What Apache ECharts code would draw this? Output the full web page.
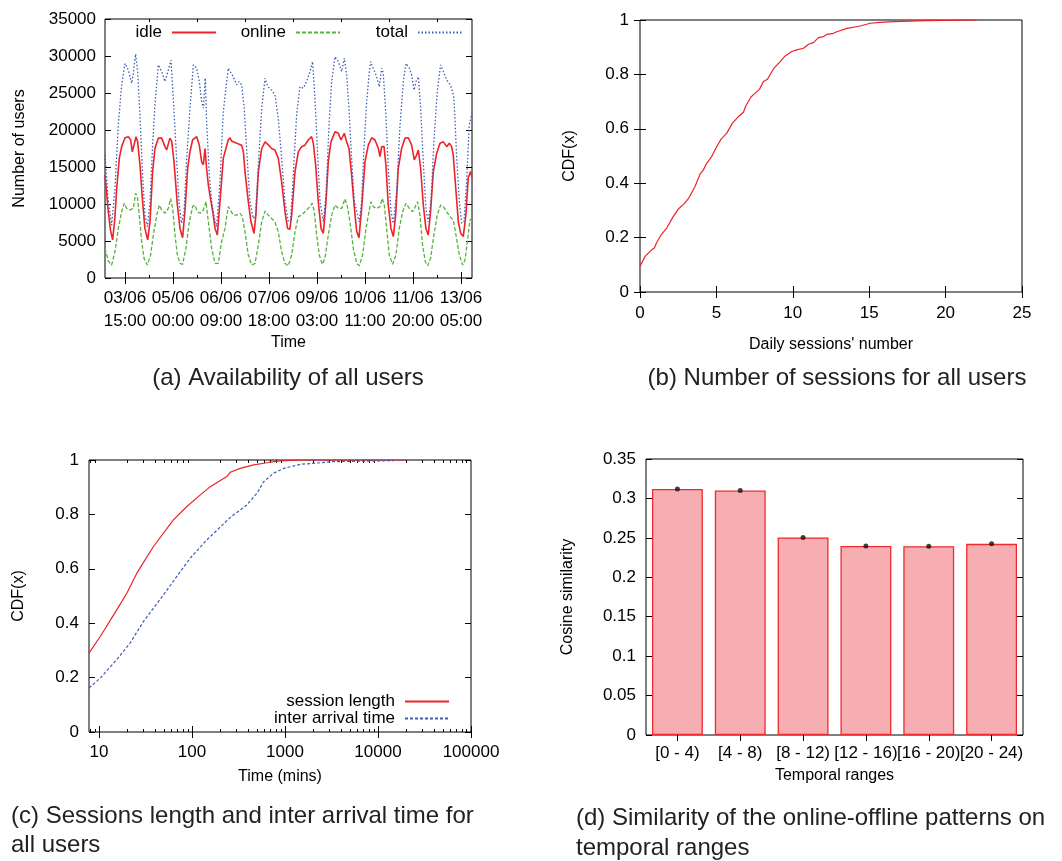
<!DOCTYPE html>
<html>
<head>
<meta charset="utf-8">
<script src="https://cdn.jsdelivr.net/npm/echarts@6.0.0/dist/echarts.min.js"></script>
<style>
  html, body { margin: 0; padding: 0; background: #fff; }
  #chart { width: 1062px; height: 861px; }
</style>
</head>
<body>
<div id="chart"></div>
<script>
// ---------- (a) Availability of all users ----------
const timeTickHours = [15, 48, 81, 114, 147, 180, 213, 246];
const timeTickLabels = ['03/06\n15:00', '05/06\n00:00', '06/06\n09:00', '07/06\n18:00', '09/06\n03:00', '10/06\n11:00', '11/06\n20:00', '13/06\n05:00'];
const timeMinorHours = [31.5, 64.5, 97.5, 130.5, 163.5, 196.5, 229.5];

const idleHours = [1.25,3.5,5,6.5,8,9.3,11.1,12.7,15,17.3,18.9,20,21.2,22.6,23.7,25.3,27.1,28.7,30.6,32.2,34,35.6,37.9,40.2,42.5,43.6,45.9,47.1,48.7,51,52.8,54.6,56.2,58.1,59.7,61.5,64.3,66.1,67.7,68.9,70,71.1,72.3,73.4,75.7,76.9,78.5,80.3,82.6,86,87.2,88.3,91.8,95.2,96.4,97.5,99.8,101.6,103.7,105,106.7,109,111.3,113.5,115.8,118.1,120.4,122.7,125,126.8,128.4,129.6,131.9,134.2,136.5,138.7,141,143.3,144.5,146.1,147.9,149.8,151.4,153.2,154.8,156.6,159.4,161.7,163.5,165.8,167.4,169,170.8,172.5,174.3,175.9,177.7,180,182.3,184.6,186.9,189.2,190.3,191.5,193.1,194.4,196,197.9,199.5,201.1,202.9,205.2,207.5,209.8,212.1,213.9,215.5,216.7,218.3,220.1,221.9,223.5,225.1,227,229.3,231.6,233.9,236.2,238,239.6,240.7,242.6,244.2,245.8,247.6,249.4,251,252.6,253.6];
const idleUsers = [13900,9000,6500,5150,8000,12100,16200,17750,18950,19100,18650,17070,17970,19100,18400,15270,10300,6700,5150,7600,14400,17500,18900,18900,17750,17300,18900,18500,15700,9900,6700,5450,8950,14800,17100,18650,19100,17950,15700,15300,17500,14800,12600,11200,8500,6700,5800,10300,16200,18650,18950,18500,18200,17950,17070,14370,10300,7600,6040,8500,14370,17500,18400,18000,17500,17300,16200,13000,8950,6700,6600,8500,14370,17070,17750,17950,18650,19100,18200,15270,10300,6700,6040,10300,15700,18400,19750,19550,18650,19550,18400,17500,14000,9900,6300,5450,9400,15700,17950,18950,18650,17500,16400,17750,17750,15270,9900,6700,5600,8500,14800,17500,18900,18950,17950,15950,16600,17300,14800,9900,6700,5800,8950,14370,16850,18200,18400,17750,18200,17750,16600,11700,7600,6040,5600,8500,13500,14400,13600];

const onlineHours = [1.25,3.5,5.8,8.1,10.4,12.7,14.5,16.1,18.4,20.7,22.3,23.5,24.8,26.5,28.1,30.4,32.6,34.5,36.8,38.6,40.2,42.5,44.8,46.4,47.8,49.4,51,52.8,54.6,56.9,59.2,61.5,63.1,64.7,66.6,68.9,70.7,72.3,74.6,76.9,79.2,81.4,83.75,86,87.2,89.5,91.8,94.1,95.7,97.5,99.8,102.1,104.4,106.7,109,111.3,113.5,115.8,118.1,120.4,122.7,125,127.3,129.6,131.9,134.2,136.5,138.7,141,143.8,145.2,146.8,148.6,150.7,152.5,154.8,157.1,159.4,161.7,164,166.3,167.9,169.7,172,174.3,176.1,178.4,180.7,183,184.1,185.7,188,190.3,191.9,193.3,194.9,196.7,199,201.3,203.6,205.9,208.2,210.5,212.8,215.1,216.2,217.8,219.6,221.5,223.1,225.1,227.4,229.7,232,233.9,236.2,238.4,240.7,242.6,244.9,247.2,248.8,250.4,252.2,253.6];
const onlineUsers = [4000,2300,1750,3550,6700,8950,10100,9400,9200,9400,11450,11000,8500,4900,2650,1750,3100,5800,8500,9850,9200,8750,9400,10750,9400,5800,3100,1980,1850,4000,7600,9650,9850,8950,8750,9200,10300,7600,4000,1980,1980,4900,6700,9650,9850,8500,8500,8750,8300,6250,3100,1750,1980,4450,7600,9050,8500,8050,7600,6250,3550,1980,1650,3100,6250,8300,8500,8950,9400,10100,8950,5800,3100,1850,2650,5800,8500,9850,9400,9400,10700,9650,7600,4000,1980,1650,3100,6700,9200,10300,9650,9400,9650,10750,9850,6700,3100,1850,3100,6700,8950,10100,9400,8950,9850,10300,8500,4450,2200,1650,2650,5800,8500,9850,9650,8950,8300,7850,5800,3100,1750,2450,4900,7850,8000];

const totalHours = [1.25,3.5,5.8,8.1,10.4,12.7,15,17.3,19.6,20.7,22.3,23.7,25.3,27.1,28.7,30.4,32.2,34,35.6,37.9,40.2,42.5,44.8,46.6,48.2,50.1,52.1,53.9,55.6,57.4,59.7,62,64.3,66.1,67.7,68.9,70.2,71.1,73,74.6,76.9,78,80.3,82.6,84.9,86,87.2,89.5,91.8,93.4,95.2,97,98.6,100.9,103.2,104.8,106.7,109,111.3,113.1,115.8,118.1,120.4,122.7,125,127.3,128.9,130.7,133,135.3,137.6,139.9,142.2,144,145.6,147.5,149.1,151.4,153.2,155.3,157.1,159.4,161.7,164,165.8,167.4,169,170.8,172.7,174.3,176.1,177.7,179.3,181.2,183,183.9,185.7,188,189.9,191.5,192.6,194.4,196,197.9,199.5,201.8,204.1,206.4,208.2,210.5,212.1,213.7,215.1,216.7,218.3,220.1,221.9,223.5,225.4,227.4,229.7,232,233.9,236.2,238,239.6,241.2,243,244.9,246.5,248.1,249.9,251.7,253.6];
const totalUsers = [16600,10300,7150,12100,20700,26100,29000,28100,26300,27650,30250,27900,22000,13900,8500,6950,10300,17950,23400,28800,27900,26550,28100,29450,24300,17500,10300,7400,8950,16200,22950,28800,28350,26550,23850,22950,27000,21150,13900,10300,7600,6950,13000,22500,26500,28350,28550,27200,26100,26550,26100,22950,17500,10300,8050,8500,15300,22950,27000,25850,25400,24750,21600,16200,10300,7600,7850,13900,22000,25850,25650,26550,27900,29250,24300,16600,10300,7600,11200,20700,26550,29900,29250,27900,29700,27450,22950,16200,10300,9000,7600,10300,17500,23850,27900,29250,28350,27200,25850,28350,27650,22000,14800,8950,7400,11650,20700,26550,29000,28350,27450,25400,26550,27200,22950,15700,9400,7600,10300,18400,25200,28800,27900,26750,26300,25650,24300,16600,10300,7400,7600,13000,20700,22300];

// ---------- (b) Number of sessions ----------
const sessionsX = [0,0.33,0.76,0.94,1.09,1.42,1.75,2.18,2.51,2.88,3.17,3.28,3.6,3.93,4.15,4.37,4.69,5.02,5.31,5.68,6.05,6.44,6.77,6.92,7.25,7.53,7.82,8.08,8.34,8.73,9.17,9.5,9.93,10.26,10.7,11.03,11.35,11.68,12.01,12.23,12.66,12.88,13.54,14.41,15.07,15.72,16.59,18.78,22.05];
const sessionsCdf = [0.094,0.131,0.155,0.162,0.182,0.213,0.235,0.278,0.305,0.324,0.343,0.343,0.388,0.433,0.449,0.474,0.498,0.535,0.562,0.584,0.621,0.645,0.661,0.684,0.716,0.731,0.745,0.774,0.782,0.82,0.847,0.868,0.884,0.89,0.896,0.911,0.917,0.935,0.939,0.947,0.951,0.957,0.969,0.978,0.988,0.991,0.994,0.998,1.0];

// ---------- (c) Session length / inter arrival ----------
const sessLenMins = [7.8,10.3,15.5,19.9,25.5,38.5,63,88,122,157,237,258,330,460,640,820,1460,5000,20000];
const sessLenCdf = [0.29,0.351,0.449,0.51,0.584,0.682,0.78,0.829,0.871,0.902,0.939,0.955,0.969,0.982,0.99,0.996,1,1,1];
const interArrMins = [7.8,10.3,15.5,21.6,30,49.3,68.6,95.5,144,258,390,500,590,750,965,1460,3335,7600,14800];
const interArrCdf = [0.162,0.198,0.266,0.327,0.406,0.504,0.572,0.639,0.706,0.789,0.835,0.878,0.92,0.951,0.969,0.984,0.994,0.996,0.998];
const logMajorTicks = [10, 100, 1000, 10000, 100000];

// ---------- (d) Similarity ----------
const rangeLabels = ['[0 - 4)', '[4 - 8)', '[8 - 12)', '[12 - 16)', '[16 - 20)', '[20 - 24)'];
const similarity = [0.312, 0.310, 0.2505, 0.2398, 0.2394, 0.2424];

// ---------- helpers ----------
const FONT = '"Liberation Sans", Arial, Helvetica, sans-serif';
const TXT = { color: '#000', fontFamily: FONT, fontSize: 17 };
const NAME = { color: '#000', fontFamily: FONT, fontSize: 16 };
const logMinorTicks = [];
[1, 10, 100, 1000, 10000].forEach(d => { for (let k = 2; k <= 9; k++) logMinorTicks.push(k * d); });

function pairs(xs, ys) { return xs.map((x, i) => [x, ys[i]]); }
function timeLabel(v) {
  const i = timeTickHours.findIndex(t => Math.abs(t - v) < 0.01);
  return i >= 0 ? timeTickLabels[i] : '';
}
const tick = (len, extra) => Object.assign({ show: true, inside: true, length: len, lineStyle: { color: '#000', width: 1 } }, extra || {});
const noLine = { show: false };
const noSplit = { show: false };

const xAxis = [
  // 0 (a) bottom
  { gridIndex: 0, type: 'value', min: 1.25, max: 253.6, position: 'bottom', axisLine: noLine, splitLine: noSplit,
    axisTick: tick(6, { customValues: timeTickHours }),
    axisLabel: Object.assign({ customValues: timeTickHours, formatter: timeLabel, lineHeight: 23, margin: 9 }, TXT),
    name: 'Time', nameLocation: 'middle', nameGap: 57, nameTextStyle: NAME },
  // 1 (a) top
  { gridIndex: 0, type: 'value', min: 1.25, max: 253.6, position: 'top', axisLine: noLine, splitLine: noSplit,
    axisTick: tick(6, { customValues: timeTickHours }), axisLabel: { show: false } },
  // 2 (a) bottom minor
  { gridIndex: 0, type: 'value', min: 1.25, max: 253.6, position: 'bottom', axisLine: noLine, splitLine: noSplit,
    axisTick: tick(3, { customValues: timeMinorHours }), axisLabel: { show: false } },
  // 3 (a) top minor
  { gridIndex: 0, type: 'value', min: 1.25, max: 253.6, position: 'top', axisLine: noLine, splitLine: noSplit,
    axisTick: tick(3, { customValues: timeMinorHours }), axisLabel: { show: false } },
  // 4 (b) bottom
  { gridIndex: 1, type: 'value', min: 0, max: 25, interval: 5, position: 'bottom', axisLine: noLine, splitLine: noSplit,
    axisTick: tick(6), axisLabel: Object.assign({ margin: 13, formatter: v => String(v) }, TXT),
    name: "Daily sessions' number", nameLocation: 'middle', nameGap: 45, nameTextStyle: NAME },
  // 5 (b) top
  { gridIndex: 1, type: 'value', min: 0, max: 25, interval: 5, position: 'top', axisLine: noLine, splitLine: noSplit,
    axisTick: tick(6), axisLabel: { show: false } },
  // 6 (c) bottom log
  { gridIndex: 2, type: 'log', logBase: 10, min: 7.8, max: 100000, position: 'bottom', axisLine: noLine, splitLine: noSplit,
    axisTick: tick(6, { customValues: logMajorTicks }),
    axisLabel: Object.assign({ customValues: logMajorTicks, margin: 12, formatter: v => String(Math.round(v)) }, TXT),
    name: 'Time (mins)', nameLocation: 'middle', nameGap: 37, nameTextStyle: NAME },
  // 7 (c) top log
  { gridIndex: 2, type: 'log', logBase: 10, min: 7.8, max: 100000, position: 'top', axisLine: noLine, splitLine: noSplit,
    axisTick: tick(6, { customValues: logMajorTicks }), axisLabel: { show: false } },
  // 8 (c) bottom minor
  { gridIndex: 2, type: 'log', logBase: 10, min: 7.8, max: 100000, position: 'bottom', axisLine: noLine, splitLine: noSplit,
    axisTick: tick(3, { customValues: logMinorTicks }), axisLabel: { show: false } },
  // 9 (c) top minor
  { gridIndex: 2, type: 'log', logBase: 10, min: 7.8, max: 100000, position: 'top', axisLine: noLine, splitLine: noSplit,
    axisTick: tick(3, { customValues: logMinorTicks }), axisLabel: { show: false } },
  // 10 (d) bottom category
  { gridIndex: 3, type: 'category', data: rangeLabels, position: 'bottom', axisLine: noLine, splitLine: noSplit,
    axisTick: tick(6, { alignWithLabel: true }), axisLabel: Object.assign({ interval: 0, margin: 10 }, TXT),
    name: 'Temporal ranges', nameLocation: 'middle', nameGap: 33, nameTextStyle: NAME },
  // 11 (d) top category
  { gridIndex: 3, type: 'category', data: rangeLabels, position: 'top', axisLine: noLine, splitLine: noSplit,
    axisTick: tick(6, { alignWithLabel: true }), axisLabel: { show: false } }
];

const yAxis = [
  { gridIndex: 0, type: 'value', min: 0, max: 35000, interval: 5000, position: 'left', axisLine: noLine, splitLine: noSplit,
    axisTick: tick(6), axisLabel: Object.assign({ margin: 9, formatter: v => String(v) }, TXT),
    name: 'Number of users', nameLocation: 'middle', nameGap: 77, nameRotate: 90, nameTextStyle: NAME },
  { gridIndex: 0, type: 'value', min: 0, max: 35000, interval: 5000, position: 'right', axisLine: noLine, splitLine: noSplit,
    axisTick: tick(6), axisLabel: { show: false } },
  { gridIndex: 1, type: 'value', min: 0, max: 1, interval: 0.2, position: 'left', axisLine: noLine, splitLine: noSplit,
    axisTick: tick(6), axisLabel: Object.assign({ margin: 11, formatter: v => String(+v.toFixed(2)) }, TXT),
    name: 'CDF(x)', nameLocation: 'middle', nameGap: 62, nameRotate: 90, nameTextStyle: NAME },
  { gridIndex: 1, type: 'value', min: 0, max: 1, interval: 0.2, position: 'right', axisLine: noLine, splitLine: noSplit,
    axisTick: tick(6), axisLabel: { show: false } },
  { gridIndex: 2, type: 'value', min: 0, max: 1, interval: 0.2, position: 'left', axisLine: noLine, splitLine: noSplit,
    axisTick: tick(6), axisLabel: Object.assign({ margin: 10, formatter: v => String(+v.toFixed(2)) }, TXT),
    name: 'CDF(x)', nameLocation: 'middle', nameGap: 62, nameRotate: 90, nameTextStyle: NAME },
  { gridIndex: 2, type: 'value', min: 0, max: 1, interval: 0.2, position: 'right', axisLine: noLine, splitLine: noSplit,
    axisTick: tick(6), axisLabel: { show: false } },
  { gridIndex: 3, type: 'value', min: 0, max: 0.35, interval: 0.05, position: 'left', axisLine: noLine, splitLine: noSplit,
    axisTick: tick(6), axisLabel: Object.assign({ margin: 10, formatter: v => String(+v.toFixed(2)) }, TXT),
    name: 'Cosine similarity', nameLocation: 'middle', nameGap: 70, nameRotate: 90, nameTextStyle: NAME },
  { gridIndex: 3, type: 'value', min: 0, max: 0.35, interval: 0.05, position: 'right', axisLine: noLine, splitLine: noSplit,
    axisTick: tick(6), axisLabel: { show: false } }
];

const gridBox = { show: true, borderColor: '#000', borderWidth: 1, backgroundColor: 'transparent', containLabel: false };
const RED = '#ee2228', GREEN = '#55b33c', BLUE = '#3d5db5';

const lineSeries = (name, data, xi, yi, color, type, width) => ({
  name, type: 'line', data, xAxisIndex: xi, yAxisIndex: yi, showSymbol: false, symbol: 'none',
  lineStyle: { color, width, type }, itemStyle: { color }, z: 3, silent: true
});

const legendBase = (name, right, top) => ({
  data: [name], right, top, align: 'right', orient: 'horizontal', padding: 0, itemWidth: 44, itemHeight: 12,
  selectedMode: false, itemStyle: { opacity: 0, borderWidth: 0 },
  textStyle: { color: '#000', fontFamily: FONT, fontSize: 17, padding: [0, 5, 0, 0] }
});

const option = {
  animation: false,
  backgroundColor: '#fff',
  grid: [
    Object.assign({ left: 105, top: 19, width: 367, height: 259 }, gridBox),
    Object.assign({ left: 640, top: 20, width: 382, height: 272 }, gridBox),
    Object.assign({ left: 89, top: 460, width: 382, height: 272 }, gridBox),
    Object.assign({ left: 646, top: 459, width: 377, height: 276 }, gridBox)
  ],
  xAxis, yAxis,
  legend: [
    legendBase('idle', 845, 24),
    legendBase('online', 721, 24),
    legendBase('total', 599, 24),
    legendBase('session length', 612, 693),
    legendBase('inter arrival time', 612, 710)
  ],
  series: [
    lineSeries('idle', pairs(idleHours, idleUsers), 0, 0, RED, 'solid', 1.6),
    lineSeries('online', pairs(onlineHours, onlineUsers), 0, 0, GREEN, [4, 2], 1.3),
    lineSeries('total', pairs(totalHours, totalUsers), 0, 0, BLUE, [1.5, 2], 1.3),
    lineSeries('sessions', pairs(sessionsX, sessionsCdf), 4, 2, RED, 'solid', 1.2),
    lineSeries('session length', pairs(sessLenMins, sessLenCdf), 6, 4, RED, 'solid', 1.2),
    lineSeries('inter arrival time', pairs(interArrMins, interArrCdf), 6, 4, BLUE, [3, 2], 1.2),
    { name: 'similarity', type: 'bar', xAxisIndex: 10, yAxisIndex: 6, data: similarity, barWidth: '81%',
      itemStyle: { color: '#f6aeb2', borderColor: '#ee2a2e', borderWidth: 1.3 }, z: 2, silent: true },
    { name: 'similarity-points', type: 'scatter', xAxisIndex: 10, yAxisIndex: 6, data: similarity,
      symbol: 'circle', symbolSize: 5, itemStyle: { color: '#111' }, z: 4, silent: true }
  ],
  graphic: [
    { type: 'text', x: 288, y: 378, style: { text: '(a) Availability of all users', fill: '#222', fontFamily: FONT, fontSize: 24, align: 'center', verticalAlign: 'middle' } },
    { type: 'text', x: 837, y: 378, style: { text: '(b) Number of sessions for all users', fill: '#222', fontFamily: FONT, fontSize: 24, align: 'center', verticalAlign: 'middle' } },
    { type: 'text', x: 11, y: 816, style: { text: '(c) Sessions length and inter arrival time for', fill: '#222', fontFamily: FONT, fontSize: 24, align: 'left', verticalAlign: 'middle' } },
    { type: 'text', x: 11, y: 845, style: { text: 'all users', fill: '#222', fontFamily: FONT, fontSize: 24, align: 'left', verticalAlign: 'middle' } },
    { type: 'text', x: 576, y: 818, style: { text: '(d) Similarity of the online-offline patterns on', fill: '#222', fontFamily: FONT, fontSize: 24, align: 'left', verticalAlign: 'middle' } },
    { type: 'text', x: 576, y: 848, style: { text: 'temporal ranges', fill: '#222', fontFamily: FONT, fontSize: 24, align: 'left', verticalAlign: 'middle' } }
  ]
};

const chart = echarts.init(document.getElementById('chart'), null, { renderer: 'canvas' });
chart.setOption(option);
</script>
</body>
</html>
